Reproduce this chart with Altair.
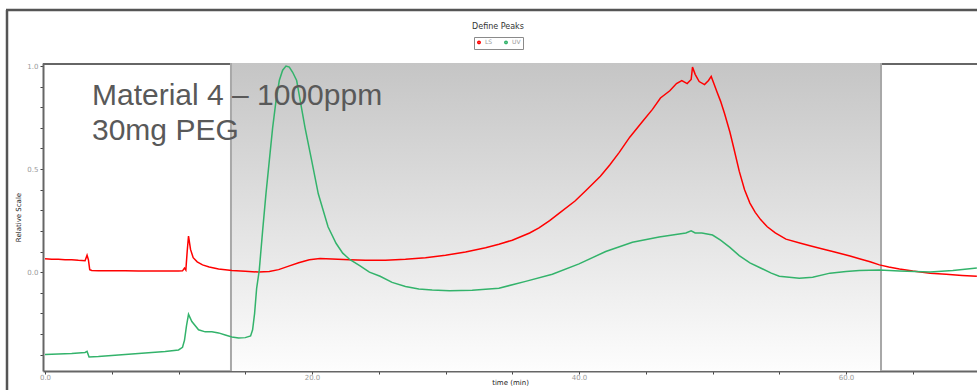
import altair as alt
import pandas as pd

# ---------------- data ----------------
ls_time = [0, 0.5, 1, 1.5, 2, 2.5, 3.0, 3.15, 3.25, 3.35, 3.5, 4, 5, 6, 7, 8, 9, 10,
           10.3, 10.45, 10.55, 10.65, 10.75, 10.9, 11.1, 11.4, 11.8, 12.3, 13, 14, 15, 16,
           16.8, 17.5, 18.2, 19, 19.8, 20.6, 21.5, 22.8, 24, 25.5, 27, 28.5, 30, 31.5, 33,
           34, 35, 36.3, 37, 37.8, 38.5, 39.7, 40.5, 41.6, 42.3, 43, 43.8, 44.8, 45.5, 46.1,
           46.8, 47.3, 47.7, 48.1, 48.4, 48.5, 48.7, 49.0, 49.4, 49.7, 49.9, 50.1, 50.3,
           50.6, 50.9, 51.3, 51.6, 52.0, 52.4, 52.8, 53.2, 53.6, 54.1, 54.7, 55.5, 56.6,
           57.3, 58.1, 59, 60.3, 61, 61.8, 62.5, 63.2, 64, 65, 66.3, 67.5, 68.7, 69.8]
ls_value = [0.065, 0.062, 0.063, 0.060, 0.060, 0.057, 0.055, 0.082, 0.060, 0.012, 0.008,
            0.007, 0.006, 0.006, 0.005, 0.005, 0.005, 0.005, 0.006, 0.020, 0.010, 0.100,
            0.175, 0.110, 0.070, 0.050, 0.035, 0.025, 0.015, 0.008, 0.004, 0.000, 0.003,
            0.012, 0.028, 0.045, 0.060, 0.066, 0.064, 0.060, 0.057, 0.057, 0.062, 0.070,
            0.082, 0.098, 0.118, 0.135, 0.155, 0.190, 0.215, 0.250, 0.285, 0.345, 0.395,
            0.465, 0.520, 0.580, 0.655, 0.735, 0.790, 0.845, 0.880, 0.915, 0.930, 0.915,
            0.935, 0.995, 0.960, 0.925, 0.910, 0.930, 0.950, 0.915, 0.880, 0.830, 0.770,
            0.680, 0.600, 0.490, 0.400, 0.335, 0.290, 0.255, 0.220, 0.190, 0.160, 0.140,
            0.128, 0.115, 0.100, 0.078, 0.065, 0.050, 0.035, 0.025, 0.015, 0.005, -0.005,
            -0.010, -0.016, -0.020]

uv_time = [0, 1, 2, 3, 3.15, 3.3, 4, 5, 6, 7, 8, 9, 10, 10.3, 10.45, 10.6, 10.75, 11.0,
           11.5, 12, 12.5, 13, 13.5, 14, 14.5, 15, 15.4, 15.55, 15.7, 15.85, 16.05, 16.3,
           16.55, 16.8, 17.05, 17.3, 17.55, 17.8, 18.05, 18.3, 18.55, 18.85, 19.15, 19.48,
           19.98, 20.47, 21.2, 21.8, 22.3, 22.85, 23.6, 24.3, 25.1, 26, 27, 28, 29, 30.3,
           32, 34, 36, 38, 40, 42, 44, 46, 47, 48, 48.4, 48.7, 49.2, 50, 50.6, 51.3, 52,
           52.8, 53.6, 54.4, 55, 56.5, 57.5, 58.8, 60, 61, 62.5, 64, 66.3, 68, 69.8]
uv_value = [-0.400, -0.398, -0.395, -0.390, -0.385, -0.412, -0.410, -0.405, -0.400, -0.395,
            -0.390, -0.385, -0.378, -0.365, -0.330, -0.260, -0.205, -0.240, -0.280, -0.290,
            -0.290, -0.295, -0.305, -0.315, -0.320, -0.318, -0.310, -0.280, -0.200, -0.080,
            0.010, 0.200, 0.380, 0.540, 0.700, 0.830, 0.930, 0.980, 1.000, 0.995, 0.970,
            0.930, 0.820, 0.700, 0.540, 0.380, 0.220, 0.140, 0.092, 0.060, 0.030, 0.000,
            -0.020, -0.050, -0.070, -0.082, -0.087, -0.090, -0.088, -0.078, -0.045, -0.010,
            0.040, 0.100, 0.145, 0.170, 0.180, 0.190, 0.200, 0.190, 0.190, 0.180, 0.155,
            0.120, 0.080, 0.045, 0.020, -0.005, -0.020, -0.030, -0.025, -0.005, 0.003,
            0.008, 0.010, 0.005, 0.000, 0.008, 0.020]

series_names = ["LS", "UV"]
series_colors = ["#ff0000", "#33b36b"]

x_tick_values = [0, 5, 10, 15, 20, 25, 30, 35, 40, 45, 50, 55, 60, 65]
y_tick_values = [-0.4, -0.3, -0.2, -0.1, 0.0, 0.1, 0.2, 0.3, 0.4, 0.5, 0.6, 0.7, 0.8, 0.9, 1.0]
x_domain = [-0.15, 69.81]
y_domain = [-0.48, 1.015]

shade_start = [13.93]
shade_end = [62.62]

annotation_lines = ["Material 4 \u2013 1000ppm", "30mg PEG"]
annotation_x = [3.52, 3.52]
annotation_y = [0.813, 0.64]

chart_title = "Define Peaks"
x_title = "time (min)"
y_title = "Relative Scale"

# ---------------- tables ----------------
lines_df = pd.concat([
    pd.DataFrame({"time": ls_time, "value": ls_value, "series": series_names[0]}),
    pd.DataFrame({"time": uv_time, "value": uv_value, "series": series_names[1]}),
], ignore_index=True)
shade_df = pd.DataFrame({"time": shade_start, "end": shade_end,
                         "value": [y_domain[1]], "bottom": [y_domain[0]]})
bounds_df = pd.DataFrame({"time": shade_start + shade_end})
annot_df = pd.DataFrame({"text": annotation_lines, "time": annotation_x, "value": annotation_y})
one_df = pd.DataFrame({"text": [chart_title]})

W, H = 934, 308
xs = alt.Scale(domain=x_domain, zero=False, nice=False)
ys = alt.Scale(domain=y_domain, zero=False, nice=False)
x_axis = alt.Axis(values=x_tick_values,
                  labelExpr="datum.value % 20 == 0 ? format(datum.value, '.1f') : ''")
y_axis = alt.Axis(values=y_tick_values,
                  labelExpr="abs(datum.value*2 - round(datum.value*2)) < 0.001 ? format(datum.value, '.1f') : ''")

def X(field="time"):
    return alt.X(f"{field}:Q", scale=xs, title=x_title, axis=x_axis)

def Y(field="value"):
    return alt.Y(f"{field}:Q", scale=ys, title=y_title, axis=y_axis)

top_line = alt.Chart(one_df).mark_rule(color="#666666", strokeWidth=2).encode(
    x=alt.value(0), x2=alt.value(W), y=alt.value(1))

gradient = alt.Gradient(
    gradient="linear",
    stops=[alt.GradientStop(color="#c5c5c5", offset=0),
           alt.GradientStop(color="#fdfdfd", offset=1)],
    x1=0, x2=0, y1=0, y2=1)

shade = alt.Chart(shade_df).mark_rect(fill=gradient).encode(
    x=X(), x2="end:Q", y=Y(), y2="bottom:Q")

bounds = alt.Chart(bounds_df).mark_rule(color="#a8a8a8", strokeWidth=2).encode(x=X())

lines = alt.Chart(lines_df).mark_line(strokeWidth=1.5).encode(
    x=X(), y=Y(),
    color=alt.Color("series:N",
                    scale=alt.Scale(domain=series_names, range=series_colors),
                    legend=alt.Legend(orient="none", legendX=431, legendY=-26,
                                      direction="horizontal", title=None,
                                      strokeColor="#8a8a8a", fillColor="white",
                                      padding=2, symbolType="circle", symbolSize=6,
                                      symbolStrokeWidth=1.5, labelFontSize=6,
                                      labelColor="#999999", labelFont="DejaVu Sans",
                                      columnPadding=8, labelOffset=3)),
    detail="series:N")

annot = alt.Chart(annot_df).mark_text(
    align="left", baseline="alphabetic", fontSize=30, font="Liberation Sans",
    color="#595959").encode(x=X(), y=Y(), text="text:N")

title_txt = alt.Chart(one_df).mark_text(
    fontSize=8, font="DejaVu Sans", color="#333333", baseline="middle").encode(
    x=alt.value(455), y=alt.value(-36), text="text:N")

frame_v = alt.Chart(one_df).mark_rule(color="#555555", strokeWidth=2.5).encode(
    x=alt.value(-36), y=alt.value(-53), y2=alt.value(340))
frame_h = alt.Chart(one_df).mark_rule(color="#555555", strokeWidth=2.5).encode(
    y=alt.value(-53), x=alt.value(-37), x2=alt.value(W + 10))

chart = alt.layer(top_line, shade, bounds, lines, annot, title_txt, frame_v, frame_h).properties(
    width=W, height=H,
    padding={"left": 43, "top": 63, "right": 0, "bottom": 19},
    autosize=alt.AutoSizeParams(type="none"),
    background="white",
).configure_view(strokeWidth=0).configure_axis(
    domainColor="#666666", domainWidth=2, tickColor="#444444", tickWidth=1,
    tickSize=3, labelColor="#9a9a9a", labelFontSize=7, labelFont="DejaVu Sans",
    titleFontSize=7, titleFont="DejaVu Sans", titleFontWeight="normal",
    titleColor="#222222", grid=False
).configure_axisX(labelPadding=-1, titlePadding=-2).configure_axisY(labelPadding=2, titlePadding=5)

chart.save("out.html", embed_options={"renderer": "svg", "actions": False})
